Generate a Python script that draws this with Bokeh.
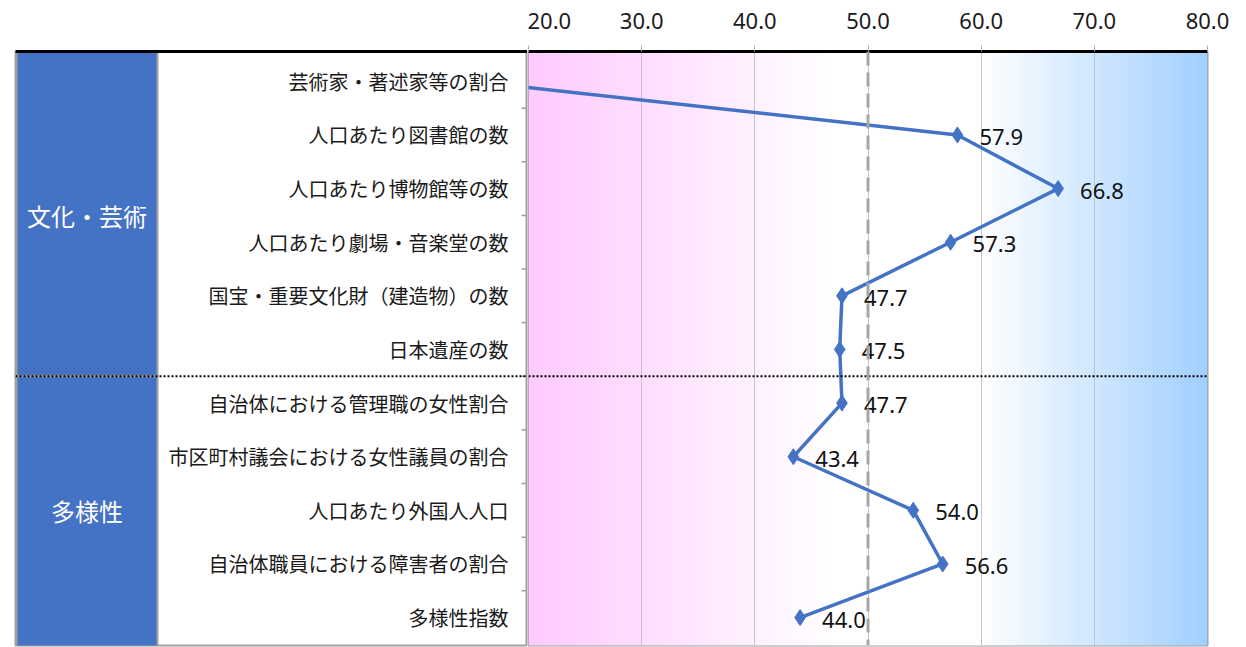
import numpy as np
from bokeh.plotting import figure
from bokeh.models import Range1d, FixedTicker, NumeralTickFormatter, Span, LinearAxis, ColumnDataSource
from bokeh.layouts import row
from bokeh.core.properties import value
from bokeh.embed import file_html
from bokeh.resources import INLINE

# ---------------- data ----------------
group_names = ["文化・芸術", "多様性"]
culture_items = ["芸術家・著述家等の割合", "人口あたり図書館の数", "人口あたり博物館等の数",
                 "人口あたり劇場・音楽堂の数", "国宝・重要文化財（建造物）の数", "日本遺産の数"]
diversity_items = ["自治体における管理職の女性割合", "市区町村議会における女性議員の割合",
                   "人口あたり外国人人口", "自治体職員における障害者の割合", "多様性指数"]
culture_values = [15.0, 57.9, 66.8, 57.3, 47.7, 47.5]
diversity_values = [47.7, 43.4, 54.0, 56.6, 44.0]
x_ticks = [20, 30, 40, 50, 60, 70, 80]
reference_value = 50

items = culture_items + diversity_items
values = culture_values + diversity_values
rows_idx = list(range(len(items)))

JP = "Noto Sans CJK JP"
NUM = "Noto Sans"
BLUE = "#4472C4"
GREY = "#A0A0A0"

H = 647
TOP = 51
BOT = 2
yr = Range1d(start=len(items) - 0.48, end=-0.556)

# ---------------- left panel (group boxes + item labels) ----------------
LW = 512
left = figure(width=15 + LW, height=H, x_range=Range1d(0, LW), y_range=yr,
              x_axis_type=None, y_axis_type=None, toolbar_location=None,
              output_backend="svg", min_border_left=15, min_border_right=0,
              min_border_top=TOP, min_border_bottom=BOT)
left.xgrid.visible = False
left.ygrid.visible = False
left.outline_line_color = GREY
left.outline_line_width = 2
left.background_fill_color = "white"
left.border_fill_color = "white"

top_axis_l = LinearAxis(ticker=FixedTicker(ticks=[]), axis_line_color="black", axis_line_width=3,
                        major_tick_line_color=None, minor_tick_line_color=None,
                        major_label_text_color=None)
left.add_layout(top_axis_l, "above")

n1 = len(culture_items)
n2 = len(diversity_items)
group_top = [-1, n1 - 0.5]
group_bottom = [n1 - 0.5, len(items) + 1]
group_center = [(n1 - 1) / 2, n1 + (n2 - 1) / 2]
left.quad(left=[1, 1], right=[142, 142], top=group_top, bottom=group_bottom,
          fill_color=BLUE, line_color=GREY, line_width=2)
left.text(x=[71.5, 71.5], y=group_center, text=group_names, text_color="white",
          text_font=value(JP), text_font_size="24px", text_align="center", text_baseline="middle")
left.text(x=[493] * len(items), y=rows_idx, text=items, text_color="#1a1a1a",
          text_font=value(JP), text_font_size="20px", text_align="right", text_baseline="middle")
bounds = [i + 0.5 for i in rows_idx[:-1]]
left.segment(x0=[506] * len(bounds), x1=[513] * len(bounds), y0=bounds, y1=bounds,
             line_color=GREY, line_width=1.5)
left.add_layout(Span(location=n1 - 0.5, dimension="width", line_color="black",
                     line_width=2, line_dash="2 2"))

# ---------------- right panel (chart) ----------------
PW = 679
p = figure(width=1 + PW + 31, height=H, x_range=Range1d(x_ticks[0], x_ticks[-1]), y_range=yr,
           x_axis_location="above", y_axis_type=None, toolbar_location=None,
           output_backend="svg", min_border_left=1, min_border_right=31,
           min_border_top=TOP, min_border_bottom=BOT)
p.outline_line_color = GREY
p.outline_line_width = 2
p.background_fill_color = "white"
p.border_fill_color = "white"

ax = p.xaxis[0]
ax.ticker = FixedTicker(ticks=x_ticks)
ax.formatter = NumeralTickFormatter(format="0.0")
ax.axis_line_color = "black"
ax.axis_line_width = 3
ax.major_tick_in = 0
ax.major_tick_out = 6
ax.major_tick_line_color = "#B0B0B0"
ax.minor_tick_line_color = None
ax.major_label_text_font = NUM
ax.major_label_text_font_size = "22px"
ax.major_label_text_color = "#1a1a1a"
ax.major_label_standoff = 17

p.xgrid.ticker = FixedTicker(ticks=x_ticks)
p.xgrid.grid_line_color = "#C4C4C4"
p.xgrid.grid_line_width = 1
p.ygrid.visible = False

# background gradient (pink -> white -> blue)
N = 680
xs = np.linspace(x_ticks[0], x_ticks[-1], N)
img = np.empty((1, N), dtype=np.uint32)
v = img.view(dtype=np.uint8).reshape((1, N, 4))
pink = np.array([255, 202, 255], dtype=float)
sky = np.array([160, 207, 255], dtype=float)
white = np.array([255, 255, 255], dtype=float)
for k, xv in enumerate(xs):
    if xv <= 47:
        t = (47 - xv) / 27.0
        c = white * (1 - t) + pink * t
    elif xv >= 60:
        t = (xv - 60) / 20.0
        c = white * (1 - t) + sky * t
    else:
        c = white
    v[0, k, 0:3] = np.round(c).astype(np.uint8)
    v[0, k, 3] = 255
p.image_rgba(image=[img], x=x_ticks[0], y=-1, dw=x_ticks[-1] - x_ticks[0], dh=len(items) + 2, level="image")

p.add_layout(Span(location=n1 - 0.5, dimension="width", line_color="black",
                  line_width=2, line_dash="2 2"))
p.add_layout(Span(location=reference_value, dimension="height", line_color="#A6A6A6",
                  line_width=3, line_dash="14 7"))

p.line(x=values, y=rows_idx, line_color=BLUE, line_width=3.5)
p.scatter(x=values, y=rows_idx, marker="diamond", size=16, fill_color=BLUE, line_color=BLUE)

lab = [(vv, r) for vv, r in zip(values, rows_idx) if vv >= x_ticks[0]]
src = ColumnDataSource(dict(x=[a for a, b in lab], y=[b for a, b in lab],
                            t=["%.1f" % a for a, b in lab]))
p.text(x="x", y="y", text="t", source=src, x_offset=22, y_offset=2,
       text_font=value(NUM), text_font_size="22px", text_color="#111111",
       text_align="left", text_baseline="middle")

layout = row(left, p)
open("out.html", "w").write(file_html(layout, INLINE))
